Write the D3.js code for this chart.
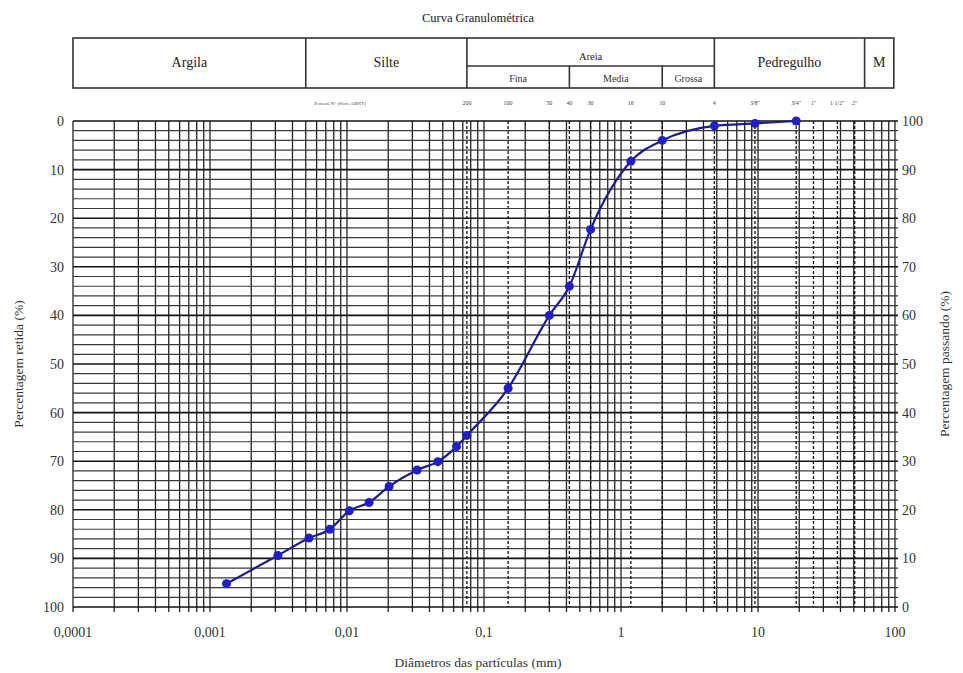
<!DOCTYPE html>
<html>
<head>
<meta charset="utf-8">
<script src="https://cdn.jsdelivr.net/npm/d3@7"></script>
<style>
  body { margin: 0; background: #fff; }
  text { font-family: "Liberation Serif", "DejaVu Serif", serif; }
</style>
</head>
<body>
<div id="chart"></div>
<script>
// dados da curva (diametro em mm, percentagem retida)
const diameters = [0.00132, 0.00313, 0.00528, 0.0075, 0.0104, 0.0145, 0.0203, 0.0325, 0.046, 0.063, 0.075, 0.15, 0.3, 0.42, 0.6, 1.18, 2.0, 4.8, 9.5, 19];
const retained = [95.2, 89.4, 85.8, 84, 80.2, 78.5, 75.2, 71.8, 70.1, 67, 64.7, 55, 40, 34, 22.3, 8.3, 4, 1, 0.5, 0];

const xTicks = [0.0001, 0.001, 0.01, 0.1, 1, 10, 100];
const xTickLabels = ["0,0001", "0,001", "0,01", "0,1", "1", "10", "100"];
const yTicks = [0, 10, 20, 30, 40, 50, 60, 70, 80, 90, 100];

const sieveSizes = [0.075, 0.15, 0.3, 0.42, 0.6, 1.18, 2.0, 4.8, 9.5, 19, 25.4, 38, 50.8];
const sieveLabels = ["200", "100", "50", "40", "30", "16", "10", "4", "3/8\"", "3/4\"", "1\"", "1 1/2\"", "2\""];

// faixas granulometricas
const bigFractions = ["Argila", "Silte", "Areia", "Pedregulho", "M"];
const bigBounds = [0.0001, 0.005, 0.075, 4.8, 60, 98];
const sandFractions = ["Fina", "Media", "Grossa"];
const sandBounds = [0.075, 0.42, 2.0, 4.8];

const width = 963;
const height = 673;

const svg = d3.select("#chart")
    .append("svg")
    .attr("width", width)
    .attr("height", height);

const x = d3.scaleLog()
    .domain([0.0001, 100])
    .range([73, 895]);

const y = d3.scaleLinear()
    .domain([0, 100])
    .range([121, 607]);

// titulo
svg.append("text")
    .attr("x", 478)
    .attr("y", 22)
    .attr("text-anchor", "middle")
    .style("font-size", "12.5px")
    .attr("fill", "#222")
    .text("Curva Granulométrica");

// tabela de classificacao
const tTop = 38, tMid = 66, tBot = 88;
const table = svg.append("g")
    .attr("stroke", "#333")
    .attr("stroke-width", 1.6)
    .attr("fill", "none");

table.append("rect")
    .attr("x", x(bigBounds[0]))
    .attr("y", tTop)
    .attr("width", x(bigBounds[bigBounds.length - 1]) - x(bigBounds[0]))
    .attr("height", tBot - tTop);

bigBounds.slice(1, -1).forEach(function(b) {
    table.append("line")
        .attr("x1", x(b)).attr("x2", x(b))
        .attr("y1", tTop).attr("y2", tBot);
});

table.append("line")
    .attr("x1", x(sandBounds[0])).attr("x2", x(sandBounds[3]))
    .attr("y1", tMid).attr("y2", tMid);

sandBounds.slice(1, -1).forEach(function(b) {
    table.append("line")
        .attr("x1", x(b)).attr("x2", x(b))
        .attr("y1", tMid).attr("y2", tBot);
});

bigFractions.forEach(function(name, i) {
    const c = Math.sqrt(bigBounds[i] * bigBounds[i + 1]);
    svg.append("text")
        .attr("x", x(c))
        .attr("y", name === "Areia" ? 60 : 67)
        .attr("text-anchor", "middle")
        .style("font-size", name === "Areia" ? "10.5px" : "14px")
        .attr("fill", "#222")
        .text(name);
});

sandFractions.forEach(function(name, i) {
    const c = Math.sqrt(sandBounds[i] * sandBounds[i + 1]);
    svg.append("text")
        .attr("x", x(c))
        .attr("y", 82)
        .attr("text-anchor", "middle")
        .style("font-size", "10px")
        .attr("fill", "#333")
        .text(name);
});

// peneiras
svg.append("text")
    .attr("x", 340)
    .attr("y", 105)
    .attr("text-anchor", "middle")
    .style("font-size", "5px")
    .attr("fill", "#444")
    .text("Peneira N° (Série ABNT)");

svg.selectAll(".sieve-label")
    .data(sieveSizes)
    .enter()
    .append("text")
    .attr("class", "sieve-label")
    .attr("x", d => x(d))
    .attr("y", 105)
    .attr("text-anchor", "middle")
    .style("font-size", "6px")
    .attr("fill", "#444")
    .text((d, i) => sieveLabels[i]);

// grade
const grid = svg.append("g");

const minor = [];
for (let e = -4; e < 2; e++) {
    for (let k = 1; k < 10; k++) minor.push(k * Math.pow(10, e));
}
minor.push(100);

grid.selectAll(".vline")
    .data(minor)
    .enter()
    .append("line")
    .attr("class", "vline")
    .attr("x1", d => x(d)).attr("x2", d => x(d))
    .attr("y1", y(0)).attr("y2", y(100) + 5)
    .attr("stroke", "#222")
    .attr("stroke-width", 1.3);

const hlines = d3.range(0, 101, 2);
grid.selectAll(".hline")
    .data(hlines)
    .enter()
    .append("line")
    .attr("class", "hline")
    .attr("x1", x(0.0001)).attr("x2", x(100) + 3)
    .attr("y1", d => y(d)).attr("y2", d => y(d))
    .attr("stroke", d => d % 10 === 0 ? "#111" : "#3a3a3a")
    .attr("stroke-width", d => d % 10 === 0 ? 1.6 : 1.2);

grid.selectAll(".sline")
    .data(sieveSizes)
    .enter()
    .append("line")
    .attr("class", "sline")
    .attr("x1", d => x(d)).attr("x2", d => x(d))
    .attr("y1", y(0)).attr("y2", y(100))
    .attr("stroke", "#111")
    .attr("stroke-width", 1.3)
    .attr("stroke-dasharray", "3,2");

// eixos
svg.selectAll(".xlabel")
    .data(xTicks)
    .enter()
    .append("text")
    .attr("class", "xlabel")
    .attr("x", d => x(d))
    .attr("y", 637)
    .attr("text-anchor", "middle")
    .style("font-size", "14px")
    .attr("fill", "#333")
    .text((d, i) => xTickLabels[i]);

svg.selectAll(".ylabel-left")
    .data(yTicks)
    .enter()
    .append("text")
    .attr("class", "ylabel-left")
    .attr("x", 64)
    .attr("y", d => y(d) + 5)
    .attr("text-anchor", "end")
    .style("font-size", "14px")
    .attr("fill", "#333")
    .text(d => d);

svg.selectAll(".ylabel-right")
    .data(yTicks)
    .enter()
    .append("text")
    .attr("class", "ylabel-right")
    .attr("x", 902)
    .attr("y", d => y(d) + 5)
    .attr("text-anchor", "start")
    .style("font-size", "14px")
    .attr("fill", "#333")
    .text(d => 100 - d);

svg.append("text")
    .attr("transform", "translate(23," + y(50) + ") rotate(-90)")
    .attr("text-anchor", "middle")
    .style("font-size", "13.5px")
    .attr("fill", "#333")
    .text("Percentagem retida (%)");

svg.append("text")
    .attr("transform", "translate(949," + y(50) + ") rotate(-90)")
    .attr("text-anchor", "middle")
    .style("font-size", "13.5px")
    .attr("fill", "#333")
    .text("Percentagem passando (%)");

svg.append("text")
    .attr("x", 478)
    .attr("y", 667)
    .attr("text-anchor", "middle")
    .style("font-size", "13.5px")
    .attr("fill", "#333")
    .text("Diâmetros das partículas (mm)");

// curva
const points = diameters.map((d, i) => ({ d: d, r: retained[i] }));

const line = d3.line()
    .x(p => x(p.d))
    .y(p => y(p.r))
    .curve(d3.curveMonotoneX);

svg.append("path")
    .attr("d", line(points))
    .attr("fill", "none")
    .attr("stroke", "#1c1c8c")
    .attr("stroke-width", 2.2);

svg.selectAll(".pt")
    .data(points)
    .enter()
    .append("circle")
    .attr("class", "pt")
    .attr("cx", p => x(p.d))
    .attr("cy", p => y(p.r))
    .attr("r", 4.5)
    .attr("fill", "#1f1fc8");
</script>
</body>
</html>
